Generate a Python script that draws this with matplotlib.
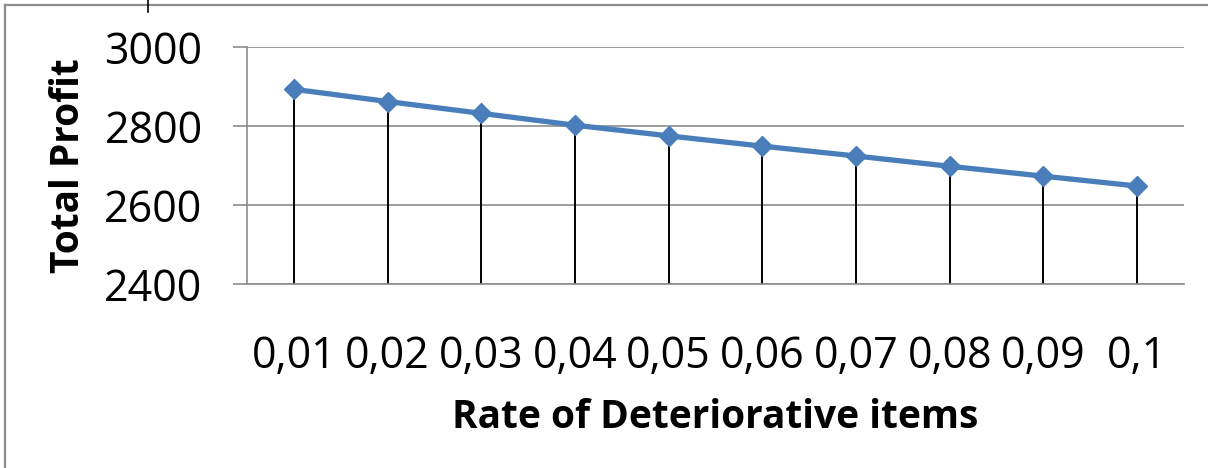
import numpy as np
import matplotlib
matplotlib.use("Agg")
import matplotlib.pyplot as plt
from matplotlib.lines import Line2D

# data
rates = ["0,01", "0,02", "0,03", "0,04", "0,05", "0,06", "0,07", "0,08", "0,09", "0,1"]
profit = [2893, 2862, 2832, 2802, 2775, 2749, 2724, 2698, 2673, 2648]
yticks = [2400, 2600, 2800, 3000]

plt.rcParams['font.family'] = ['Open Sans', 'DejaVu Sans']

W, H = 1208, 468
fig = plt.figure(figsize=(W / 100, H / 100), dpi=100)

# outer chart frame (only top and left edges visible)
fig.add_artist(Line2D([5 / W, 5 / W], [0, 1 - 5 / H], color='#8c8c8c', lw=1.6))
fig.add_artist(Line2D([5 / W, 1], [1 - 5 / H, 1 - 5 / H], color='#8c8c8c', lw=1.6))
fig.add_artist(Line2D([148 / W, 148 / W], [1 - 12 / H, 1], color='black', lw=1.2))

ax = fig.add_axes([247 / W, (H - 284) / H, (1184 - 247) / W, (284 - 47) / H])
x = np.arange(len(rates))

ax.vlines(x, yticks[0], profit, color='black', lw=1.4, zorder=2)
ax.plot(x, profit, color='#4A7EBB', lw=3.8, marker='D', markersize=10.5,
        markeredgecolor='#4A7EBB', zorder=3)

ax.set_xlim(-0.5, len(rates) - 0.5)
ax.set_ylim(2400, 3000)
ax.set_yticks(yticks)
ax.set_xticks(x)
ax.set_xticklabels(rates)

ax.grid(axis='y', color='#8c8c8c', lw=1.2, zorder=0)
for s in ['top', 'right']:
    ax.spines[s].set_visible(False)
for s in ['left', 'bottom']:
    ax.spines[s].set_color('#8c8c8c')
    ax.spines[s].set_linewidth(1.2)

ax.tick_params(axis='y', length=10, width=1.2, color='#8c8c8c', pad=22, labelsize=31)
ax.tick_params(axis='x', length=0, pad=36, labelsize=31)

ax.set_xlabel("Rate of Deteriorative items", fontsize=28, fontweight='bold', labelpad=14)
ax.set_ylabel("Total Profit", fontsize=28, fontweight='bold', labelpad=12)

fig.savefig("out.png", dpi=100)
